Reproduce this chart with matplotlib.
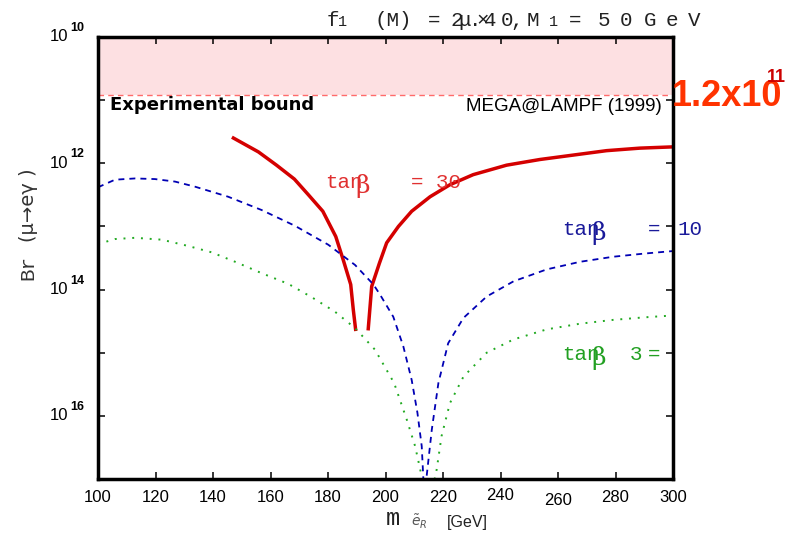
import matplotlib
matplotlib.use("Agg")
import matplotlib.pyplot as plt
import matplotlib.transforms as mtransforms
from matplotlib.ticker import NullLocator
import numpy as np

# slepton mass [GeV] and log10(Br)
red_left_m = [147.1, 155.8, 162.1, 168.3, 173.2, 178.2, 182.7, 185.3, 187.9, 188.8, 189.6]
red_left_log = [-11.60, -11.82, -12.03, -12.25, -12.50, -12.76, -13.16, -13.53, -13.92, -14.32, -14.63]
red_right_m = [194.0, 195.2, 197.9, 200.4, 204.5, 209.1, 215.5, 222.4, 230.5, 242.1, 253.7, 265.3, 276.9, 288.5, 300.0]
red_right_log = [-14.62, -13.95, -13.58, -13.26, -13.00, -12.76, -12.53, -12.34, -12.18, -12.03, -11.94, -11.87, -11.80, -11.76, -11.74]

blue_m = [100.0, 105.9, 112.9, 119.8, 126.8, 133.7, 145.3, 156.9, 168.5, 180.1, 189.4, 195.8, 198.1, 202.7,
          206.2, 209.1, 211.1, 212.6, 213.5, 214.3, 216.1, 218.4, 221.8, 227.1, 235.2, 244.5, 256.1, 267.7,
          279.2, 290.0, 300.0]
blue_log = [-12.38, -12.26, -12.24, -12.25, -12.29, -12.37, -12.53, -12.74, -12.99, -13.29, -13.61, -13.92, -14.08,
            -14.43, -14.90, -15.43, -15.95, -16.48, -17.30, -16.96, -16.22, -15.48, -14.85, -14.45, -14.11, -13.87,
            -13.68, -13.56, -13.48, -13.43, -13.39]

green_m = [100.0, 105.9, 112.9, 122.2, 131.4, 139.5, 147.7, 156.9, 166.2, 174.3, 182.4, 189.4, 196.3, 203.0,
           207.4, 210.3, 212.6, 215.2, 217.8, 219.5, 222.4, 227.1, 235.2, 244.5, 256.1, 267.7, 279.2, 290.0, 300.0]
green_log = [-13.28, -13.20, -13.18, -13.21, -13.31, -13.41, -13.56, -13.74, -13.91, -14.12, -14.35, -14.61, -14.95,
             -15.48, -16.06, -16.48, -16.96, -17.40, -16.85, -16.32, -15.80, -15.38, -15.00, -14.79, -14.63, -14.54,
             -14.48, -14.44, -14.41]

bound_value = 1.2e-11
x_ticks = [100, 120, 140, 160, 180, 200, 220, 240, 260, 280, 300]
y_tick_exps = [-17, -16, -15, -14, -13, -12, -11, -10]
y_label_exps = [10, 12, 14, 16]

W, H = 794, 535
MONO = ["Liberation Mono", "DejaVu Sans Mono"]
SANS = ["Liberation Sans", "DejaVu Sans"]
NARROW = ["Liberation Sans Narrow", "Liberation Sans", "DejaVu Sans"]


def fx(px):
    return px / W


def fy(py):
    return 1 - py / H


fig = plt.figure(figsize=(W / 100, H / 100), dpi=100)
ax = fig.add_axes([fx(98), fy(479), 575 / W, 442 / H])

ax.axhspan(bound_value, 1e-10, color="#fde0e2", lw=0, zorder=0)
ax.axhline(bound_value, color="#ff6b6b", lw=1.0, ls=(0, (4, 3)), zorder=1)

ax.plot(red_left_m, 10.0 ** np.array(red_left_log), color="#d40000", lw=2.5, solid_joinstyle="round")
ax.plot(red_right_m, 10.0 ** np.array(red_right_log), color="#d40000", lw=2.5, solid_joinstyle="round")
ax.plot(blue_m, 10.0 ** np.array(blue_log), color="#0000b4", lw=1.3, ls=(0, (3.3, 2.8)))
ax.plot(green_m, 10.0 ** np.array(green_log), color="#22aa22", lw=1.4, ls=(0, (1, 3.5)))

ax.set_yscale("log")
ax.set_xlim(100, 300)
ax.set_ylim(1e-17, 1e-10)
ax.set_yticks([10.0 ** k for k in y_tick_exps])
ax.yaxis.set_minor_locator(NullLocator())
ax.set_yticklabels([])
ax.set_xticks(x_ticks)
ax.set_xticklabels([str(t) for t in x_ticks], fontfamily=SANS, fontsize=12)
ax.tick_params(direction="in", length=5, width=1.1, top=True, right=True, pad=8)
for sp in ax.spines.values():
    sp.set_linewidth(2.5)

# slightly uneven x tick labels as in the original
for lab, dy in zip(ax.get_xticklabels(), [0, 0, 0, 0, 0, 0, 0, 2, -3, 0, 0]):
    lab.set_transform(lab.get_transform() + mtransforms.ScaledTranslation(0, dy / 100, fig.dpi_scale_trans))

# y tick labels "10" with exponent
trans = mtransforms.blended_transform_factory(fig.transFigure, ax.transData)
for e in y_label_exps:
    ax.text(fx(68), 10.0 ** -e, "10", transform=trans, ha="right", va="center",
            fontfamily=SANS, fontsize=12)
    up = trans + mtransforms.ScaledTranslation(0, 0.09, fig.dpi_scale_trans)
    ax.text(fx(70), 10.0 ** -e, str(e), transform=up, ha="left", va="center",
            fontfamily=SANS, fontsize=9, fontweight="bold")

# bound annotations
fig.text(fx(110), fy(110), "Experimental bound", fontfamily="DejaVu Sans", fontweight="bold",
         fontsize=13, va="baseline")
fig.text(fx(662), fy(111), "MEGA@LAMPF (1999)", fontfamily=NARROW, fontsize=13.5,
         ha="right", va="baseline")
fig.text(fx(672), fy(106), "1.2x10", fontfamily=SANS, fontweight="bold", fontsize=26,
         color="#ff3300", va="baseline")
fig.text(fx(767), fy(82), "11", fontfamily=SANS, fontweight="bold", fontsize=13,
         color="#cc0000", va="baseline")

# curve labels
labels = [
    ("#e03030", 188, [("tan", 325), ("= 30", 411)], 355),
    ("#1a1a9a", 235, [("tan", 562), ("=", 648), ("10", 677)], 591),
    ("#22a022", 360, [("tan", 562), ("3", 630), ("=", 648)], 591),
]
for col, base, parts, bx in labels:
    for s, x in parts:
        fig.text(fx(x), fy(base), s, fontfamily=MONO, fontsize=15, color=col, va="baseline")
    fig.text(fx(bx), fy(base + 5), "β", fontfamily="DejaVu Serif", fontsize=18, color=col, va="baseline")

# title
title_parts = [("f", 327, 15), ("1", 338, 11), ("(M)", 374, 15), ("=", 428, 15), ("2", 451, 15),
               ("μ", 458, 15), (".", 469, 15), ("×", 476, 15), ("4", 484, 15), ("0", 501, 15),
               (",", 510, 15), ("M", 527, 15), ("1", 549, 11), ("=", 569, 15), ("5", 598, 15),
               ("0", 620, 15), ("G", 644, 15), ("e", 666, 15), ("V", 688, 15)]
for s, x, size in title_parts:
    fig.text(fx(x), fy(26), s, fontfamily=MONO, fontsize=size, color="#222222", va="baseline")

# axis labels
fig.text(fx(28), fy(268), "Br", fontfamily=MONO, fontsize=15, rotation=90, ha="center", va="center",
         color="#333333")
fig.text(fx(28), fy(205), "(μ→eγ )", fontfamily="DejaVu Sans", fontsize=14, rotation=90, ha="center",
         va="center", color="#333333")
fig.text(fx(386), fy(525), "m", fontfamily=MONO, fontsize=17, color="#222222", va="baseline")
fig.text(fx(411), fy(527), r"$\tilde{e}_R$", fontsize=10, color="#555555", va="baseline")
fig.text(fx(447), fy(527), "[GeV]", fontfamily=SANS, fontsize=11.5, color="#222222", va="baseline")

fig.savefig("out.png", dpi=100)
